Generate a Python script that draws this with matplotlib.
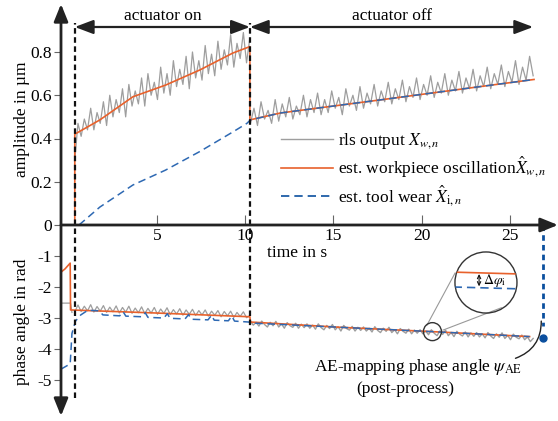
import numpy as np
import matplotlib
matplotlib.use('Agg')
import matplotlib.pyplot as plt
from matplotlib.patches import Ellipse, FancyArrowPatch
from matplotlib.lines import Line2D
from matplotlib.mathtext import MathTextParser

plt.rcParams['font.family'] = ['Liberation Serif', 'DejaVu Serif']
plt.rcParams['mathtext.fontset'] = 'stix'

# ---------------- data ----------------
t_on, t_off, t_end = 0.36, 10.27, 26.3
t_ae = 26.86
phase_ae = -3.63

# amplitude
t_gray_amp_on = np.linspace(0.36, 10.26, 56)
gray_amp_on = [0.30, 0.47, 0.41, 0.49, 0.44, 0.54, 0.44, 0.52, 0.47, 0.57, 0.46, 0.60, 0.50, 0.58,
               0.52, 0.63, 0.50, 0.65, 0.55, 0.62, 0.56, 0.68, 0.55, 0.70, 0.60, 0.66, 0.58, 0.73,
               0.61, 0.70, 0.60, 0.76, 0.64, 0.72, 0.65, 0.78, 0.63, 0.80, 0.68, 0.76, 0.67, 0.83,
               0.70, 0.79, 0.69, 0.85, 0.72, 0.81, 0.74, 0.88, 0.73, 0.84, 0.77, 0.89, 0.75, 0.86]
t_gray_amp_off = np.linspace(10.3, 26.3, 81)
gray_amp_off = [0.47, 0.54, 0.46, 0.57, 0.49, 0.53, 0.47, 0.58, 0.48, 0.56, 0.50, 0.59, 0.49, 0.55,
                0.51, 0.60, 0.50, 0.58, 0.52, 0.61, 0.51, 0.58, 0.52, 0.62, 0.54, 0.59, 0.51, 0.63,
                0.55, 0.60, 0.53, 0.64, 0.54, 0.61, 0.56, 0.65, 0.55, 0.62, 0.57, 0.66, 0.56, 0.63,
                0.58, 0.67, 0.57, 0.64, 0.59, 0.68, 0.58, 0.65, 0.60, 0.69, 0.59, 0.66, 0.61, 0.70,
                0.60, 0.67, 0.62, 0.71, 0.61, 0.68, 0.63, 0.72, 0.62, 0.69, 0.64, 0.73, 0.63, 0.70,
                0.65, 0.74, 0.64, 0.71, 0.66, 0.76, 0.65, 0.73, 0.67, 0.78, 0.69]
t_work_amp = [0.36, 0.36, 1.78, 3.65, 5.5, 7.44, 9.3, 10.27, 10.27, 12.0, 17.6, 23.3, 26.35]
work_amp = [0.0, 0.42, 0.486, 0.593, 0.647, 0.717, 0.795, 0.825, 0.486, 0.518, 0.578, 0.64, 0.673]
t_tool_amp = [0.6, 1.78, 3.65, 5.5, 7.44, 9.3, 10.1, 10.3, 12.0, 17.6, 23.3, 26.35]
tool_amp = [0.0, 0.083, 0.185, 0.254, 0.34, 0.43, 0.47, 0.486, 0.518, 0.578, 0.64, 0.673]

# phase
t_gray_ph_pre = [-0.42, 0.12, 0.2]
gray_ph_pre = [-2.52, -2.52, -2.82]
t_gray_ph_on = np.linspace(0.36, 10.26, 56)
gray_ph_on = [-2.80, -2.58, -2.79, -2.62, -2.77, -2.57, -2.81, -2.63, -2.78, -2.60, -2.82, -2.65,
              -2.80, -2.61, -2.84, -2.66, -2.81, -2.62, -2.85, -2.68, -2.83, -2.64, -2.86, -2.69,
              -2.84, -2.66, -2.88, -2.71, -2.85, -2.67, -2.89, -2.73, -2.87, -2.70, -2.91, -2.74,
              -2.88, -2.72, -2.92, -2.76, -2.90, -2.74, -2.94, -2.78, -2.91, -2.76, -2.96, -2.79,
              -2.93, -2.78, -2.98, -2.82, -2.95, -2.80, -2.99, -2.92]
t_gray_ph_off = np.linspace(10.3, 26.3, 101)
gray_ph_off = [-3.10, -3.23, -3.14, -3.26, -3.10, -3.21, -3.29, -3.14, -3.25, -3.11, -3.29, -3.19,
               -3.33, -3.15, -3.25, -3.30, -3.17, -3.33, -3.20, -3.31, -3.19, -3.33, -3.23, -3.36,
               -3.19, -3.31, -3.38, -3.24, -3.34, -3.21, -3.38, -3.28, -3.42, -3.24, -3.34, -3.39,
               -3.27, -3.42, -3.30, -3.40, -3.29, -3.42, -3.33, -3.45, -3.28, -3.40, -3.47, -3.33,
               -3.43, -3.30, -3.47, -3.38, -3.51, -3.34, -3.43, -3.49, -3.36, -3.51, -3.39, -3.49,
               -3.38, -3.51, -3.42, -3.54, -3.38, -3.49, -3.57, -3.42, -3.53, -3.39, -3.57, -3.47,
               -3.60, -3.43, -3.52, -3.58, -3.45, -3.61, -3.48, -3.59, -3.47, -3.61, -3.51, -3.64,
               -3.47, -3.58, -3.66, -3.51, -3.62, -3.48, -3.66, -3.56, -3.70, -3.52, -3.62, -3.67,
               -3.55, -3.70, -3.61, -3.76, -3.66]
t_work_ph = [-0.42, -0.2, 0.1, 0.12, 5.0, 10.27, 10.3, 15.4, 20.6, 26.1]
work_ph = [-1.52, -1.42, -1.23, -2.74, -2.84, -2.96, -3.13, -3.30, -3.44, -3.60]
t_tool_ph = [-0.42, 0.1, 0.2, 0.4, 0.7, 1.1, 1.75, 1.95, 2.9, 3.1, 3.25, 4.15, 4.35, 4.5, 5.4,
             5.6, 5.75, 6.6, 6.8, 6.95, 7.9, 8.1, 8.25, 9.05, 9.25, 9.4, 10.2, 10.3, 15.4, 20.6, 26.1]
tool_ph = [-4.65, -4.48, -3.5, -3.1, -2.9, -2.75, -2.77, -2.90, -2.93, -2.80, -2.94, -2.96, -2.83,
           -2.98, -3.00, -2.86, -3.01, -3.03, -2.89, -3.04, -3.06, -2.91, -3.07, -3.09, -2.94,
           -3.10, -3.13, -3.16, -3.30, -3.44, -3.60]

xticks = [5, 10, 15, 20, 25]
amp_ticks = [0, 0.2, 0.4, 0.6, 0.8]
amp_ticklabels = ['0', '0.2', '0.4', '0.6', '0.8']
ph_ticks = [-1, -2, -3, -4, -5]
ph_ticklabels = ['-1', '-2', '-3', '-4', '-5']

# ---------------- style ----------------
GRAY = '#9e9e9e'
ORANGE = '#e8612c'
BLUE = '#2e69b3'
DBLUE = '#0b4f9e'
AXC = '#222222'
FS = 12.5

W, H = 558, 421
fig = plt.figure(figsize=(W / 100, H / 100), dpi=100)


def fx(px):
    return px / W


def fy(py):
    return 1 - py / H


XL = (-0.42, 27.65)
ax1 = fig.add_axes([fx(61), fy(225), fx(557) - fx(61), fy(5) - fy(225)])
ax2 = fig.add_axes([fx(61), fy(415), fx(557) - fx(61), fy(225) - fy(415)])
for ax in (ax1, ax2):
    ax.patch.set_visible(False)
    for s in ax.spines.values():
        s.set_visible(False)
    ax.set_xlim(*XL)
ax1.set_ylim(0, 220 / 216.25)
ax2.set_ylim(-190 / 31.0, 0)

# amplitude lines
ax1.plot(t_gray_amp_on, gray_amp_on, color=GRAY, lw=0.9, zorder=2)
ax1.plot(t_gray_amp_off, gray_amp_off, color=GRAY, lw=0.9, zorder=2)
ax1.plot(t_work_amp, work_amp, color=ORANGE, lw=1.2, zorder=3)
ax1.plot(t_tool_amp, tool_amp, color=BLUE, lw=1.1, dashes=(5, 3), zorder=4)

# phase lines
ax2.plot(t_gray_ph_pre, gray_ph_pre, color=GRAY, lw=0.9, zorder=2)
ax2.plot(t_gray_ph_on, gray_ph_on, color=GRAY, lw=0.9, zorder=2)
ax2.plot(t_gray_ph_off, gray_ph_off, color=GRAY, lw=1.0, zorder=2)
ax2.plot(t_work_ph, work_ph, color=ORANGE, lw=1.2, zorder=3)
ax2.plot(t_tool_ph, tool_ph, color=BLUE, lw=1.1, dashes=(5, 3), zorder=4)

# ticks
ax1.set_xticks(xticks)
ax1.set_xticklabels([str(v) for v in xticks])
ax1.tick_params(axis='x', direction='in', length=7, width=0.8, color='#666', pad=2, labelsize=FS)
ax1.set_yticks(amp_ticks)
ax1.set_yticklabels(amp_ticklabels)
ax1.tick_params(axis='y', direction='out', length=5, width=0.8, color='#666', pad=1.5, labelsize=FS)
ax2.set_xticks([])
ax2.set_yticks(ph_ticks)
ax2.set_yticklabels(ph_ticklabels)
ax2.tick_params(axis='y', direction='out', length=5, width=0.8, color='#666', pad=1.5, labelsize=FS)

# vertical dashed phase separators
for tv in (t_on, t_off):
    ax1.axvline(tv, ymin=0, ymax=(225 - 23) / 220, color='#111', lw=1.6, dashes=(2.5, 1.6), zorder=5)
    ax2.axvline(tv, ymin=(415 - 398) / 190, ymax=1, color='#111', lw=1.6, dashes=(2.5, 1.6), zorder=5)

# actuator arrows
ytr = ax1.get_xaxis_transform()
yarr = (225 - 27) / 220
for a, b in ((t_on, t_off), (t_off, t_end)):
    ax1.annotate('', xy=(b, yarr), xytext=(a, yarr), xycoords=ytr, textcoords=ytr,
                 arrowprops=dict(arrowstyle='<|-|>,head_length=0.45,head_width=0.17',
                                 mutation_scale=25, color=AXC, lw=1.6, shrinkA=0, shrinkB=0))
ax1.text((t_on + t_off) / 2, (225 - 16) / 220, 'actuator on', transform=ytr,
         ha='center', va='center', fontsize=FS)
ax1.text(18.3, (225 - 16) / 220, 'actuator off', transform=ytr,
         ha='center', va='center', fontsize=FS)

# axes arrows
fig.add_artist(FancyArrowPatch((fx(61), fy(416)), (fx(61), fy(4)), transform=fig.transFigure,
                               arrowstyle='<|-|>,head_length=0.42,head_width=0.17', mutation_scale=25,
                               color=AXC, lw=2, shrinkA=0, shrinkB=0))
fig.add_artist(FancyArrowPatch((fx(61), fy(225)), (fx(558), fy(225)), transform=fig.transFigure,
                               arrowstyle='-|>,head_length=0.42,head_width=0.17', mutation_scale=25,
                               color=AXC, lw=2, shrinkA=0, shrinkB=0))

# axis labels
fig.text(fx(22), fy(119), 'amplitude in µm', rotation=90, ha='center', va='center', fontsize=FS)
fig.text(fx(22), fy(322), 'phase angle in rad', rotation=90, ha='center', va='center', fontsize=FS)
ax2.text(11.25, -0.9, 'time in s', ha='left', va='center', fontsize=FS)


# legend
def ok(s):
    try:
        MathTextParser('path').parse(s)
        return s
    except Exception:
        return None


lab1 = ok(r'rls output $\underline{X}_{w,n}$') or r'rls output $X_{w,n}$'
lab2 = ok(r'est. workpiece oscillation$\hat{\underline{X}}_{w,n}$') or r'est. workpiece oscillation$\hat{X}_{w,n}$'
lab3 = ok(r'est. tool wear $\hat{\underline{X}}_{\mathrm{i},n}$') or r'est. tool wear $\hat{X}_{\mathrm{i},n}$'
handles = [Line2D([], [], color=GRAY, lw=1.0),
           Line2D([], [], color=ORANGE, lw=1.2),
           Line2D([], [], color=DBLUE, lw=1.2, dashes=(5, 3))]
ax1.legend(handles, [lab1, lab2, lab3], loc='upper left', bbox_to_anchor=(fx(281), fy(131)),
           bbox_transform=fig.transFigure, frameon=False, handlelength=3.0, handletextpad=0.3,
           borderpad=0, borderaxespad=0, labelspacing=0.22, fontsize=FS)

# AE-mapping marker
ax2.plot([t_ae, t_ae], [0, -3.25], color=DBLUE, lw=2, dashes=(2, 1.5), zorder=5)
ax2.plot([t_ae], [phase_ae], 'o', color=DBLUE, ms=5, zorder=6)
ax2.text((314 - 68.4) / 17.67, -(367 - 225) / 31.0, r'AE-mapping phase angle $\psi_{\mathrm{AE}}$',
         ha='left', va='center', fontsize=FS)
ax2.text((356 - 68.4) / 17.67, -(389 - 225) / 31.0, '(post-process)', ha='left', va='center', fontsize=FS)
ax2.annotate('', xy=(t_ae - 0.1, -3.1), xytext=(25.3, -4.3),
             arrowprops=dict(arrowstyle='-', color=AXC, lw=1.0, shrinkA=0, shrinkB=0,
                             connectionstyle='arc3,rad=0.35'))

# zoom inset
small = Ellipse((20.6, -3.44), 1.02, 0.58, fill=False, ec='#333', lw=1.0, zorder=7)
big = Ellipse((23.63, -1.855), 3.51, 1.97, fill=False, ec='#333', lw=1.0, zorder=7)
ax2.add_patch(small)
ax2.add_patch(big)
ax2.plot([20.29, 21.88], [-3.23, -1.55], color='#999', lw=0.8, zorder=6)
ax2.plot([21.2, 24.5], [-3.39, -2.67], color='#999', lw=0.8, zorder=6)
l1, = ax2.plot([21.8, 25.5], [-1.52, -1.58], color=ORANGE, lw=1.2, zorder=7)
l2, = ax2.plot([21.8, 25.5], [-2.0, -2.06], color=BLUE, lw=1.2, dashes=(5, 3), zorder=7)
l1.set_clip_path(big)
l2.set_clip_path(big)
ax2.annotate('', xy=(23.24, -1.58), xytext=(23.24, -1.98),
             arrowprops=dict(arrowstyle='<->,head_length=0.25,head_width=0.12', color='#111', lw=0.8,
                             shrinkA=0, shrinkB=0, mutation_scale=10))
ax2.text(23.45, -1.8, r'$\Delta\varphi_{\mathrm{i}}$', ha='left', va='center', fontsize=10)

fig.savefig('out.png', dpi=100)
